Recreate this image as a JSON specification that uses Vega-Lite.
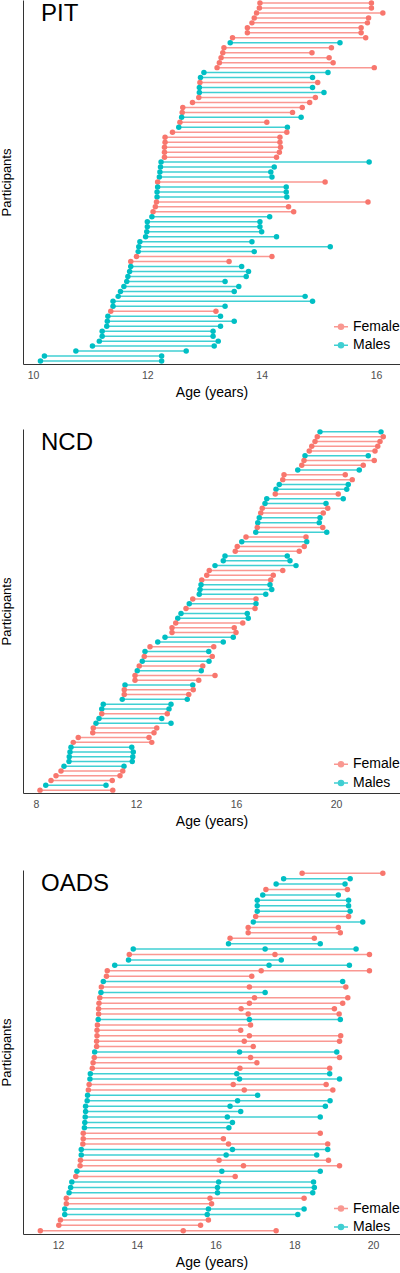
{
  "$schema": "https://vega.github.io/schema/vega-lite/v6.json",
  "padding": 0,
  "background": "white",
  "config": {
    "view": {"stroke": null},
    "font": "Liberation Sans",
    "axis": {"grid": false, "ticks": false, "tickSize": 0, "domainColor": "#333333", "domainWidth": 1, "labelColor": "#4D4D4D", "labelFontSize": 10.5, "titleFontWeight": "normal", "titleColor": "black"},
    "axisX": {"labelPadding": 6, "titlePadding": 5, "titleFontSize": 14},
    "axisY": {"titleFontSize": 13, "titlePadding": 10, "labels": false},
    "title": {"fontSize": 24, "fontWeight": "normal", "anchor": "start", "frame": "group", "dx": 18, "offset": -26, "color": "black"},
    "legend": {"title": null, "orient": "none", "symbolType": "M-1,0L1,0M0.36,0A0.36,0.36,0,1,1,-0.36,0A0.36,0.36,0,1,1,0.36,0Z", "symbolSize": 196, "symbolStrokeWidth": 1.5, "labelFontSize": 14, "labelColor": "black", "labelOffset": 4, "rowPadding": 3.6}
  },
  "datasets": {
    "pit": [
      {"id":73,"sex":"Female","s":13.97,"e":15.92},{"id":72,"sex":"Female","s":13.96,"e":15.92},{"id":71,"sex":"Female","s":13.91,"e":16.12},{"id":70,"sex":"Female","s":13.87,"e":15.87},{"id":69,"sex":"Female","s":13.83,"e":15.85},{"id":68,"sex":"Female","s":13.75,"e":15.74},{"id":67,"sex":"Female","s":13.75,"e":15.74},{"id":66,"sex":"Female","s":13.49,"e":15.82},{"id":65,"sex":"Males","s":13.45,"e":15.37},{"id":64,"sex":"Female","s":13.34,"e":15.22},{"id":63,"sex":"Female","s":13.32,"e":14.88},{"id":62,"sex":"Female","s":13.29,"e":15.18},{"id":61,"sex":"Female","s":13.26,"e":15.25},{"id":60,"sex":"Female","s":13.22,"e":15.97},{"id":59,"sex":"Males","s":12.99,"e":15.16},{"id":58,"sex":"Males","s":12.93,"e":14.89},{"id":57,"sex":"Female","s":12.92,"e":14.98},{"id":56,"sex":"Males","s":12.91,"e":14.89},{"id":55,"sex":"Males","s":12.91,"e":15.09},{"id":54,"sex":"Female","s":12.90,"e":14.94},{"id":53,"sex":"Female","s":12.79,"e":14.84},{"id":52,"sex":"Female","s":12.62,"e":14.71},{"id":51,"sex":"Female","s":12.61,"e":14.54},{"id":50,"sex":"Males","s":12.60,"e":14.69},{"id":49,"sex":"Female","s":12.57,"e":14.09},{"id":48,"sex":"Males","s":12.55,"e":14.45},{"id":47,"sex":"Female","s":12.44,"e":14.44},{"id":46,"sex":"Female","s":12.31,"e":14.32},{"id":45,"sex":"Female","s":12.31,"e":14.32},{"id":44,"sex":"Female","s":12.30,"e":14.33},{"id":43,"sex":"Female","s":12.30,"e":14.31},{"id":42,"sex":"Female","s":12.30,"e":14.26},{"id":41,"sex":"Males","s":12.24,"e":15.88},{"id":40,"sex":"Males","s":12.23,"e":14.22},{"id":39,"sex":"Males","s":12.22,"e":14.16},{"id":38,"sex":"Males","s":12.21,"e":14.18},{"id":37,"sex":"Female","s":12.18,"e":15.11},{"id":36,"sex":"Males","s":12.18,"e":14.43},{"id":35,"sex":"Males","s":12.17,"e":14.43},{"id":34,"sex":"Males","s":12.17,"e":14.44},{"id":33,"sex":"Female","s":12.16,"e":15.86},{"id":32,"sex":"Female","s":12.14,"e":14.47},{"id":31,"sex":"Female","s":12.10,"e":14.56},{"id":30,"sex":"Males","s":12.08,"e":14.14},{"id":29,"sex":"Males","s":12.00,"e":13.97},{"id":28,"sex":"Males","s":12.00,"e":13.97},{"id":27,"sex":"Males","s":11.99,"e":14.00},{"id":26,"sex":"Males","s":11.97,"e":14.26},{"id":25,"sex":"Males","s":11.87,"e":13.83},{"id":24,"sex":"Males","s":11.85,"e":15.20},{"id":23,"sex":"Males","s":11.84,"e":13.87},{"id":22,"sex":"Female","s":11.81,"e":14.18},{"id":21,"sex":"Female","s":11.71,"e":13.43},{"id":20,"sex":"Males","s":11.71,"e":13.65},{"id":19,"sex":"Males","s":11.69,"e":13.77},{"id":18,"sex":"Males","s":11.66,"e":13.73},{"id":17,"sex":"Males","s":11.64,"e":13.36},{"id":16,"sex":"Males","s":11.59,"e":13.60},{"id":15,"sex":"Males","s":11.53,"e":13.52},{"id":14,"sex":"Males","s":11.49,"e":14.76},{"id":13,"sex":"Males","s":11.40,"e":14.89},{"id":12,"sex":"Males","s":11.40,"e":13.36},{"id":11,"sex":"Female","s":11.36,"e":13.20},{"id":10,"sex":"Males","s":11.31,"e":13.28},{"id":9,"sex":"Males","s":11.30,"e":13.52},{"id":8,"sex":"Males","s":11.29,"e":13.28},{"id":7,"sex":"Males","s":11.21,"e":13.15},{"id":6,"sex":"Males","s":11.21,"e":13.15},{"id":5,"sex":"Males","s":11.16,"e":13.24},{"id":4,"sex":"Males","s":11.04,"e":13.17},{"id":3,"sex":"Males","s":10.75,"e":12.68},{"id":2,"sex":"Males","s":10.20,"e":12.25},{"id":1,"sex":"Males","s":10.13,"e":12.25}
    ],
    "ncd": [
      {"id":76,"sex":"Males","s":19.36,"e":21.80},{"id":75,"sex":"Female","s":19.25,"e":21.89},{"id":74,"sex":"Female","s":19.16,"e":21.76},{"id":73,"sex":"Female","s":19.03,"e":21.67},{"id":72,"sex":"Female","s":18.93,"e":21.56},{"id":71,"sex":"Males","s":18.76,"e":21.29},{"id":70,"sex":"Female","s":18.72,"e":21.53},{"id":69,"sex":"Female","s":18.63,"e":21.09},{"id":68,"sex":"Males","s":18.47,"e":20.93},{"id":67,"sex":"Female","s":17.92,"e":20.37},{"id":66,"sex":"Female","s":17.87,"e":20.65},{"id":65,"sex":"Males","s":17.73,"e":20.49},{"id":64,"sex":"Males","s":17.60,"e":20.43},{"id":63,"sex":"Female","s":17.57,"e":20.09},{"id":62,"sex":"Males","s":17.23,"e":20.29},{"id":61,"sex":"Males","s":17.16,"e":19.60},{"id":60,"sex":"Female","s":17.05,"e":19.67},{"id":59,"sex":"Female","s":16.99,"e":19.49},{"id":58,"sex":"Males","s":16.93,"e":19.36},{"id":57,"sex":"Males","s":16.87,"e":19.33},{"id":56,"sex":"Female","s":16.85,"e":19.47},{"id":55,"sex":"Males","s":16.79,"e":19.63},{"id":54,"sex":"Female","s":16.40,"e":18.80},{"id":53,"sex":"Males","s":16.23,"e":18.83},{"id":52,"sex":"Female","s":16.05,"e":18.73},{"id":51,"sex":"Female","s":15.97,"e":18.53},{"id":50,"sex":"Males","s":15.56,"e":18.05},{"id":49,"sex":"Males","s":15.49,"e":18.16},{"id":48,"sex":"Males","s":15.16,"e":18.40},{"id":47,"sex":"Female","s":14.93,"e":17.87},{"id":46,"sex":"Female","s":14.83,"e":17.49},{"id":45,"sex":"Female","s":14.63,"e":17.39},{"id":44,"sex":"Males","s":14.60,"e":17.36},{"id":43,"sex":"Males","s":14.56,"e":17.43},{"id":42,"sex":"Males","s":14.53,"e":17.19},{"id":41,"sex":"Female","s":14.27,"e":16.80},{"id":40,"sex":"Males","s":14.13,"e":16.80},{"id":39,"sex":"Female","s":14.00,"e":16.76},{"id":38,"sex":"Males","s":13.80,"e":16.45},{"id":37,"sex":"Males","s":13.67,"e":16.49},{"id":36,"sex":"Female","s":13.59,"e":16.27},{"id":35,"sex":"Female","s":13.44,"e":15.93},{"id":34,"sex":"Female","s":13.44,"e":16.00},{"id":33,"sex":"Males","s":13.16,"e":15.89},{"id":32,"sex":"Males","s":12.87,"e":15.49},{"id":31,"sex":"Female","s":12.56,"e":15.11},{"id":30,"sex":"Males","s":12.36,"e":14.91},{"id":29,"sex":"Female","s":12.33,"e":15.05},{"id":28,"sex":"Males","s":12.25,"e":14.92},{"id":27,"sex":"Female","s":12.13,"e":14.67},{"id":26,"sex":"Males","s":12.05,"e":14.61},{"id":25,"sex":"Female","s":11.96,"e":15.16},{"id":24,"sex":"Female","s":11.96,"e":14.51},{"id":23,"sex":"Males","s":11.56,"e":14.27},{"id":22,"sex":"Female","s":11.53,"e":14.29},{"id":21,"sex":"Female","s":11.53,"e":14.11},{"id":20,"sex":"Males","s":11.45,"e":14.05},{"id":19,"sex":"Males","s":10.69,"e":13.40},{"id":18,"sex":"Males","s":10.63,"e":13.32},{"id":17,"sex":"Female","s":10.63,"e":13.25},{"id":16,"sex":"Males","s":10.52,"e":13.03},{"id":15,"sex":"Males","s":10.40,"e":13.40},{"id":14,"sex":"Female","s":10.29,"e":12.83},{"id":13,"sex":"Female","s":10.27,"e":12.72},{"id":12,"sex":"Female","s":9.69,"e":12.52},{"id":11,"sex":"Female","s":9.49,"e":12.63},{"id":10,"sex":"Males","s":9.40,"e":11.83},{"id":9,"sex":"Males","s":9.36,"e":11.89},{"id":8,"sex":"Males","s":9.33,"e":11.87},{"id":7,"sex":"Males","s":9.32,"e":11.85},{"id":6,"sex":"Males","s":9.12,"e":11.52},{"id":5,"sex":"Female","s":9.00,"e":11.47},{"id":4,"sex":"Female","s":8.80,"e":11.36},{"id":3,"sex":"Female","s":8.60,"e":11.05},{"id":2,"sex":"Males","s":8.39,"e":10.80},{"id":1,"sex":"Female","s":8.16,"e":11.07}
    ],
    "oads": [
      {"id":67,"sex":"Female","s":18.20,"e":20.25},{"id":66,"sex":"Males","s":17.73,"e":19.42},{"id":65,"sex":"Males","s":17.54,"e":19.29},{"id":64,"sex":"Female","s":17.28,"e":19.35},{"id":63,"sex":"Males","s":17.20,"e":19.12},{"id":62,"sex":"Males","s":17.06,"e":19.38},{"id":61,"sex":"Males","s":17.06,"e":19.38},{"id":60,"sex":"Males","s":17.06,"e":19.42},{"id":59,"sex":"Female","s":17.02,"e":19.38},{"id":58,"sex":"Males","s":16.96,"e":19.74},{"id":57,"sex":"Female","s":16.83,"e":19.12},{"id":56,"sex":"Female","s":16.83,"e":19.17},{"id":55,"sex":"Female","s":16.37,"e":18.51},{"id":54,"sex":"Males","s":16.33,"e":18.66},{"id":53,"sex":"Males","s":13.91,"m":17.26,"e":19.57},{"id":52,"sex":"Female","s":13.81,"m":17.51,"e":19.91},{"id":51,"sex":"Males","s":13.79,"e":17.67},{"id":50,"sex":"Males","s":13.44,"m":17.36,"e":19.40},{"id":49,"sex":"Female","s":13.25,"m":17.16,"e":19.91},{"id":48,"sex":"Female","s":13.23,"e":16.92},{"id":47,"sex":"Males","s":13.15,"e":19.23},{"id":46,"sex":"Female","s":13.10,"m":16.86,"e":19.31},{"id":45,"sex":"Males","s":13.09,"e":17.26},{"id":44,"sex":"Female","s":13.06,"m":16.99,"e":19.36},{"id":43,"sex":"Female","s":13.04,"m":16.86,"e":19.23},{"id":42,"sex":"Female","s":13.03,"m":16.65,"e":19.02},{"id":41,"sex":"Female","s":13.03,"m":16.83,"e":19.14},{"id":40,"sex":"Males","s":13.02,"m":16.86,"e":19.17},{"id":39,"sex":"Female","s":13.00,"e":16.89},{"id":38,"sex":"Female","s":12.99,"e":16.64},{"id":37,"sex":"Female","s":12.99,"m":16.86,"e":19.18},{"id":36,"sex":"Female","s":12.98,"m":16.73,"e":19.15},{"id":35,"sex":"Female","s":12.98,"e":16.96},{"id":34,"sex":"Males","s":12.93,"m":16.61,"e":19.08},{"id":33,"sex":"Female","s":12.92,"m":16.89,"e":19.15},{"id":32,"sex":"Female","s":12.89,"e":17.05},{"id":31,"sex":"Female","s":12.87,"m":16.62,"e":18.90},{"id":30,"sex":"Males","s":12.82,"m":16.54,"e":18.90},{"id":29,"sex":"Males","s":12.81,"m":16.61,"e":19.15},{"id":28,"sex":"Female","s":12.79,"m":16.45,"e":18.81},{"id":27,"sex":"Female","s":12.77,"m":16.73,"e":18.98},{"id":26,"sex":"Males","s":12.75,"e":17.07},{"id":25,"sex":"Males","s":12.74,"m":16.56,"e":18.91},{"id":24,"sex":"Males","s":12.70,"m":16.37,"e":18.79},{"id":23,"sex":"Males","s":12.70,"e":16.64},{"id":22,"sex":"Males","s":12.69,"m":16.30,"e":18.66},{"id":21,"sex":"Males","s":12.68,"e":16.43},{"id":20,"sex":"Males","s":12.67,"e":16.34},{"id":19,"sex":"Female","s":12.64,"e":18.66},{"id":18,"sex":"Female","s":12.64,"e":16.20},{"id":17,"sex":"Female","s":12.63,"m":16.33,"e":18.85},{"id":16,"sex":"Males","s":12.59,"m":16.43,"e":18.85},{"id":15,"sex":"Males","s":12.59,"m":16.27,"e":18.57},{"id":14,"sex":"Female","s":12.57,"m":16.09,"e":18.87},{"id":13,"sex":"Female","s":12.56,"m":16.71,"e":19.15},{"id":12,"sex":"Males","s":12.48,"m":16.16,"e":18.66},{"id":11,"sex":"Female","s":12.45,"e":16.50},{"id":10,"sex":"Males","s":12.35,"m":16.08,"e":18.49},{"id":9,"sex":"Males","s":12.32,"m":16.05,"e":18.51},{"id":8,"sex":"Males","s":12.28,"m":16.05,"e":18.47},{"id":7,"sex":"Female","s":12.21,"m":15.86,"e":18.25},{"id":6,"sex":"Female","s":12.21,"e":15.90},{"id":5,"sex":"Males","s":12.17,"m":15.82,"e":18.25},{"id":4,"sex":"Males","s":12.17,"m":15.79,"e":18.09},{"id":3,"sex":"Female","s":12.06,"e":15.82},{"id":2,"sex":"Female","s":12.02,"e":15.62},{"id":1,"sex":"Female","s":11.55,"m":15.18,"e":17.54}
    ]
  },
  "resolve": {"scale": {"x": "independent", "y": "independent"}, "legend": {"color": "independent"}},
  "spacing": 41,
  "vconcat": [
    {
      "resolve": {"scale": {"x": "independent", "y": "independent"}, "legend": {"color": "independent"}},
      "spacing": 29,
      "vconcat": [
        {
          "width": 377, "height": 364,
          "data": {"name": "pit"},
          "title": {"text": "PIT"},
          "encoding": {
            "y": {"field": "id", "type": "quantitative", "scale": {"domain": [0.4, 73.6], "nice": false, "zero": false}, "axis": {"title": "Participants"}},
            "color": {"field": "sex", "type": "nominal", "scale": {"domain": ["Female", "Males"], "range": ["#F8766D", "#00BFC4"]},
              "legend": {"legendX": 310, "legendY": 318.7, "encode": {"symbols": {"update": {"fill": {"scale": "color", "field": "value"}, "stroke": {"scale": "color", "field": "value"}, "opacity": {"value": 1}}}}}}
          },
          "layer": [
            {"mark": {"type": "rule", "strokeWidth": 1.5, "opacity": 0.75},
             "encoding": {"x": {"field": "s", "type": "quantitative", "scale": {"domain": [9.825, 16.42], "nice": false, "zero": false}, "axis": {"values": [10, 12, 14, 16], "title": "Age (years)"}}, "x2": {"field": "e"}}},
            {"transform": [{"fold": ["s", "e"], "as": ["k", "age"]}],
             "mark": {"type": "circle", "size": 30, "opacity": 1},
             "encoding": {"x": {"field": "age", "type": "quantitative", "scale": {"domain": [9.825, 16.42], "nice": false, "zero": false}, "axis": {"values": [10, 12, 14, 16], "title": "Age (years)"}}}}
          ]
        },
        {
          "width": 377, "height": 364,
          "data": {"name": "ncd"},
          "title": {"text": "NCD"},
          "encoding": {
            "y": {"field": "id", "type": "quantitative", "scale": {"domain": [0.4, 76.6], "nice": false, "zero": false}, "axis": {"title": "Participants"}},
            "color": {"field": "sex", "type": "nominal", "scale": {"domain": ["Female", "Males"], "range": ["#F8766D", "#00BFC4"]},
              "legend": {"legendX": 310, "legendY": 327.3, "encode": {"symbols": {"update": {"fill": {"scale": "color", "field": "value"}, "stroke": {"scale": "color", "field": "value"}, "opacity": {"value": 1}}}}}}
          },
          "layer": [
            {"mark": {"type": "rule", "strokeWidth": 1.5, "opacity": 0.75},
             "encoding": {"x": {"field": "s", "type": "quantitative", "scale": {"domain": [7.48, 22.56], "nice": false, "zero": false}, "axis": {"values": [8, 12, 16, 20], "title": "Age (years)"}}, "x2": {"field": "e"}}},
            {"transform": [{"fold": ["s", "e"], "as": ["k", "age"]}],
             "mark": {"type": "circle", "size": 30, "opacity": 1},
             "encoding": {"x": {"field": "age", "type": "quantitative", "scale": {"domain": [7.48, 22.56], "nice": false, "zero": false}, "axis": {"values": [8, 12, 16, 20], "title": "Age (years)"}}}}
          ]
        }
      ]
    },
    {
      "width": 377, "height": 364,
      "data": {"name": "oads"},
      "title": {"text": "OADS"},
      "encoding": {
        "y": {"field": "id", "type": "quantitative", "scale": {"domain": [0.4, 67.6], "nice": false, "zero": false}, "axis": {"title": "Participants"}},
        "color": {"field": "sex", "type": "nominal", "scale": {"domain": ["Female", "Males"], "range": ["#F8766D", "#00BFC4"]},
          "legend": {"legendX": 310, "legendY": 330.5, "encode": {"symbols": {"update": {"fill": {"scale": "color", "field": "value"}, "stroke": {"scale": "color", "field": "value"}, "opacity": {"value": 1}}}}}}
      },
      "layer": [
        {"mark": {"type": "rule", "strokeWidth": 1.5, "opacity": 0.75},
         "encoding": {"x": {"field": "s", "type": "quantitative", "scale": {"domain": [11.11, 20.686], "nice": false, "zero": false}, "axis": {"values": [12, 14, 16, 18, 20], "title": "Age (years)"}}, "x2": {"field": "e"}}},
        {"transform": [{"fold": ["s", "m", "e"], "as": ["k", "age"]}, {"filter": "isValid(datum.age)"}],
         "mark": {"type": "circle", "size": 30, "opacity": 1},
         "encoding": {"x": {"field": "age", "type": "quantitative", "scale": {"domain": [11.11, 20.686], "nice": false, "zero": false}, "axis": {"values": [12, 14, 16, 18, 20], "title": "Age (years)"}}}}
      ]
    }
  ]
}
